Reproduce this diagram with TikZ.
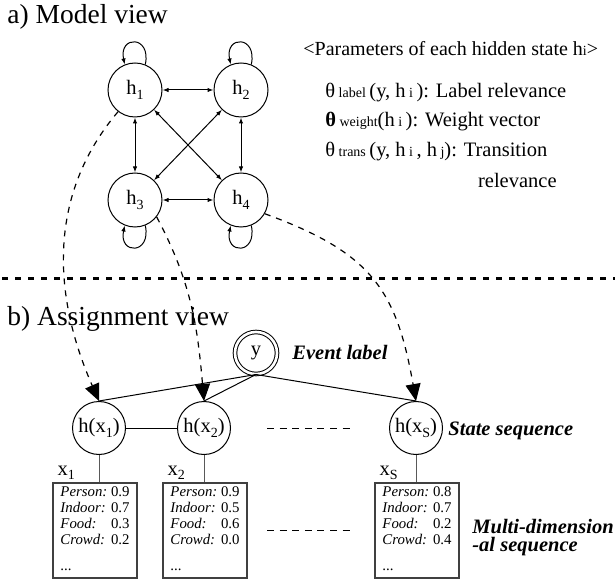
\documentclass[tikz,border=0pt]{standalone}
\usepackage{fontspec}
\setmainfont{Liberation Serif}
\usetikzlibrary{arrows.meta}

\newcommand{\lowsub}[1]{\raisebox{-0.45ex}{\scriptsize #1}}
\newcommand{\featlist}[4]{%
  \begin{tabular}{@{}l@{\ }r@{}}
    \textit{Person:} & #1\\
    \textit{Indoor:} & #2\\
    \textit{Food:} & #3\\
    \textit{Crowd:} & #4\\[5pt]
    ... &
  \end{tabular}}

\begin{document}
\begin{tikzpicture}[
    x=0.5pt, y=0.5pt,
    font=\fontsize{10.25}{12}\selectfont,
    state/.style={circle, draw, line width=0.5pt, minimum size=27pt,
      inner sep=0.5pt},
    seqstate/.style={circle, draw, line width=0.5pt, minimum size=26.5pt,
      inner sep=0.5pt},
    labelstate/.style={circle, draw, double, double distance=1.3pt,
      line width=0.5pt, minimum size=21pt, inner sep=0pt},
    featbox/.style={rectangle, draw=black!75, line width=0.9pt, minimum
      width=42pt, minimum height=47.5pt, inner sep=0pt,
      font=\fontsize{7.4}{8}\selectfont},
    title/.style={anchor=base west, inner sep=0pt,
      font=\fontsize{13.75}{16}\selectfont},
    param/.style={anchor=base west, inner sep=0pt},
    note/.style={anchor=base west, inner sep=0pt,
      font=\fontsize{10.25}{12}\selectfont\bfseries\itshape},
    xlab/.style={anchor=base west, inner sep=0pt},
    line/.style={draw, line width=0.5pt},
    trans/.style={draw, line width=0.5pt,
      {Latex[length=3pt,width=2.2pt]}-{Latex[length=3pt,width=2.2pt]}},
    selfloop/.style={draw, line width=0.5pt, -{Latex[length=3pt,width=2.2pt]}},
    assign/.style={draw, dashed, line width=0.6pt,
      -{Triangle[length=8.5pt,width=7.5pt]}},
    separator/.style={draw, line width=1.5pt, dash pattern=on 3pt off 3.5pt},
    ellipsis/.style={draw, line width=0.5pt, dash pattern=on 3.5pt off 2.8pt}
  ]
  \useasboundingbox (0,0) rectangle (615,584);

  \node[title] (ttla) at (7,560) {a) Model view};
  \node[state] (h1) at (135,494) {h\lowsub{1}};
  \node[state] (h2) at (241,494) {h\lowsub{2}};
  \node[state] (h3) at (135,384) {h\lowsub{3}};
  \node[state] (h4) at (241,384) {h\lowsub{4}};

  \path[trans] (h1) -- (h2);
  \path[trans] (h1) -- (h3);
  \path[trans] (h2) -- (h4);
  \path[trans] (h3) -- (h4);
  \path[trans] (h1) -- (h4);
  \path[trans] (h2) -- (h3);

  \path[selfloop] (h1.68) .. controls +(78:30) and +(102:30) .. (h1.112);
  \path[selfloop] (h2.68) .. controls +(78:30) and +(102:30) .. (h2.112);
  \path[selfloop] (h3.-68) .. controls +(-78:30) and +(-102:30) .. (h3.-112);
  \path[selfloop] (h4.-68) .. controls +(-78:30) and +(-102:30) .. (h4.-112);

  \node[param, font=\fontsize{10}{12}\selectfont] (phead) at (303,528)
  {<Parameters of each hidden state h{\scriptsize i}>};
  \node[param] (plabel) at (325,486)
  {θ{\scriptsize\ label\ }(y, h{\scriptsize\ i\ }): Label relevance};
  \node[param] (pweight) at (325,457)
  {\textbf{θ}{\scriptsize\ weight}(h{\scriptsize\ i\ }): Weight vector};
  \node[param] (ptrans) at (325,427)
  {θ{\scriptsize\ trans\ }(y, h{\scriptsize\ i\ }, h{\scriptsize\ j}): Transition};
  \node[param, anchor=base east] (ptrans2) at (557,396) {relevance};

  \path[separator] (2,305) -- (615,305);

  \node[title] (ttlb) at (7,258) {b) Assignment view};
  \node[labelstate] (y) at (256,231) {y};
  \node[note] (evt) at (292,225) {Event label};

  \node[seqstate] (hx1) at (99,156) {h(x\lowsub{1})};
  \node[seqstate] (hx2) at (204,156) {h(x\lowsub{2})};
  \node[seqstate] (hxs) at (416,156) {h(x\lowsub{S})};
  \node[note] (seq) at (448,149) {State sequence};

  \node[featbox] (f1) at (95,53.5) {\featlist{0.9}{0.7}{0.3}{0.2}};
  \node[featbox] (f2) at (205,53.5) {\featlist{0.9}{0.5}{0.6}{0.0}};
  \node[featbox] (fs) at (417,53.5) {\featlist{0.8}{0.7}{0.2}{0.4}};
  \node[note] (multi) at (472,51) {Multi-dimension};
  \node[note] (multi2) at (472,33) {-al sequence};

  \node[xlab] (x1) at ([shift={(5,7)}]f1.north west) {x\lowsub{1}};
  \node[xlab] (x2) at ([shift={(5,7)}]f2.north west) {x\lowsub{2}};
  \node[xlab] (xs) at ([shift={(5,7)}]fs.north west) {x\lowsub{S}};

  \path[line] (y.south) -- (hx1.north);
  \path[line] (y.south) -- (hx2.north);
  \path[line] (y.south) -- (hxs.north);
  \path[line] (hx1) -- (hx2);
  \path[line, draw=black!65] (hx1.south) -- (hx1.south |- f1.north);
  \path[line, draw=black!65] (hx2.south) -- (hx2.south |- f2.north);
  \path[line, draw=black!65] (hxs.south) -- (hxs.south |- fs.north);
  \path[ellipsis] (267,156) -- (353,156);
  \path[ellipsis] (267,54) -- (353,54);

  \path[assign] (h1.232) .. controls (48,390) and (52,290) .. (hx1.north);
  \path[assign] (h3.-38) to[out=-62, in=95] (hx2.north);
  \path[assign] (h4.-30) to[out=-20, in=100, looseness=1.2] (hxs.north);

\end{tikzpicture}
\end{document}
